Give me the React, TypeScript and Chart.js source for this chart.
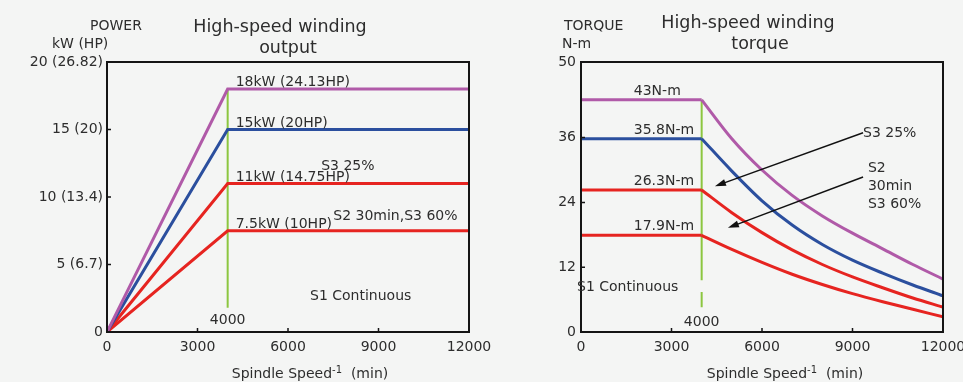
import React, { useEffect, useRef } from "react";
import { Chart, registerables } from "chart.js";

Chart.register(...registerables);

// ---- data -------------------------------------------------------------

// spindle speed axis (rpm)
const speedTicks = [0, 3000, 6000, 9000, 12000];
const baseSpeed = 4000;
const maxSpeed = 12000;

// output chart (kW, HP in brackets)
const powerTickValues = [0, 5, 10, 15, 20];
const powerTickLabels = ["0", "5 (6.7)", "10 (13.4)", "15 (20)", "20 (26.82)"];
const powerRatings = [18, 15, 11, 7.5];
const powerRatingLabels = ["18kW (24.13HP)", "15kW (20HP)", "11kW (14.75HP)", "7.5kW (10HP)"];
const powerMarkerFloor = 1.8;

// torque chart (N-m)
const torqueTickValues = [0, 12, 24, 36, 50];
const torqueRatings = [43, 35.8, 26.3, 17.9];
const torqueRatingLabels = ["43N-m", "35.8N-m", "26.3N-m", "17.9N-m"];
const falloffSpeeds = [4000, 5000, 6000, 7000, 8000, 9000, 10000, 11000, 12000];
const torqueCurve1 = [43, 35.8, 30.0, 25.3, 21.5, 18.3, 15.4, 12.5, 9.8];
const torqueCurve2 = [35.8, 29.8, 24.3, 19.8, 16.2, 13.3, 10.9, 8.7, 6.7];
const torqueCurve3 = [26.3, 22.1, 18.4, 15.2, 12.5, 10.2, 8.2, 6.3, 4.6];
const torqueCurve4 = [17.9, 15.3, 12.9, 10.7, 8.8, 7.1, 5.6, 4.2, 2.8];
const torqueCurves = [torqueCurve1, torqueCurve2, torqueCurve3, torqueCurve4];
const torqueMarkerUpper = [9.6];
const torqueMarkerLower = [7.4, 4.6];

// ---- styling ----------------------------------------------------------

const FONT = '"DejaVu Sans", sans-serif';
const TEXT = "#2d2d2d";
const AXIS = "#151515";
const BG = "#f4f5f4";
const PURPLE = "#b05aa8";
const BLUE = "#2b4f9e";
const RED = "#e62420";
const GREEN = "#8cc640";
const seriesColors = [PURPLE, BLUE, RED, RED];

// ---- drawing helpers --------------------------------------------------

function label(
  ctx: CanvasRenderingContext2D,
  s: string,
  x: number,
  y: number,
  size = 14,
  align: CanvasTextAlign = "left"
) {
  ctx.font = `${size}px ${FONT}`;
  ctx.fillStyle = TEXT;
  ctx.textAlign = align;
  ctx.textBaseline = "alphabetic";
  ctx.fillText(s, x, y);
}

function frame(chart: any, xInner: number[], yInner: number[]) {
  const { ctx, chartArea: a, scales } = chart;
  ctx.save();
  ctx.strokeStyle = AXIS;
  ctx.lineWidth = 2;
  ctx.strokeRect(a.left, a.top, a.right - a.left, a.bottom - a.top);
  ctx.lineWidth = 1.5;
  ctx.beginPath();
  for (const v of xInner) {
    const px = scales.x.getPixelForValue(v);
    ctx.moveTo(px, a.bottom);
    ctx.lineTo(px, a.bottom - 4);
  }
  for (const v of yInner) {
    const py = scales.y.getPixelForValue(v);
    ctx.moveTo(a.left, py);
    ctx.lineTo(a.left + 4, py);
  }
  ctx.stroke();
  ctx.restore();
}

function speedTitle(ctx: CanvasRenderingContext2D, centerX: number, baseline: number) {
  const main = "Spindle Speed";
  const sup = "-1";
  const tail = "  (min)";
  ctx.font = `14px ${FONT}`;
  const w1 = ctx.measureText(main).width;
  const w3 = ctx.measureText(tail).width;
  ctx.font = `10px ${FONT}`;
  const w2 = ctx.measureText(sup).width;
  let x = centerX - (w1 + w2 + w3) / 2;
  label(ctx, main, x, baseline, 14);
  x += w1;
  label(ctx, sup, x, baseline - 5, 10);
  x += w2;
  label(ctx, tail, x, baseline, 14);
}

function arrow(ctx: CanvasRenderingContext2D, x1: number, y1: number, x2: number, y2: number) {
  const ang = Math.atan2(y2 - y1, x2 - x1);
  const c = Math.cos(ang);
  const s = Math.sin(ang);
  const L = 11;
  const W = 3.5;
  ctx.save();
  ctx.strokeStyle = "#111";
  ctx.fillStyle = "#111";
  ctx.lineWidth = 1.4;
  ctx.beginPath();
  ctx.moveTo(x1, y1);
  ctx.lineTo(x2 - L * 0.7 * c, y2 - L * 0.7 * s);
  ctx.stroke();
  ctx.beginPath();
  ctx.moveTo(x2, y2);
  ctx.lineTo(x2 - L * c + W * s, y2 - L * s - W * c);
  ctx.lineTo(x2 - L * c - W * s, y2 - L * s + W * c);
  ctx.closePath();
  ctx.fill();
  ctx.restore();
}

function baseOptions(yScale: any, padRight: number, yWidth: number) {
  return {
    responsive: false,
    animation: false,
    devicePixelRatio: 1,
    events: [],
    layout: { padding: { top: 62, left: 0, right: padRight, bottom: 0 } },
    plugins: {
      legend: { display: false },
      tooltip: { enabled: false },
      title: { display: false },
    },
    elements: { point: { radius: 0 }, line: { borderCapStyle: "butt", borderJoinStyle: "miter" } },
    scales: {
      x: {
        type: "linear",
        min: 0,
        max: maxSpeed,
        afterBuildTicks: (s: any) => {
          s.ticks = speedTicks.map((v) => ({ value: v }));
        },
        grid: { display: false, drawTicks: false },
        border: { display: false },
        ticks: {
          padding: 7,
          color: TEXT,
          autoSkip: false,
          maxRotation: 0,
          font: { family: FONT, size: 14 },
          callback: (v: number) => String(v),
        },
        afterFit: (s: any) => {
          s.height = 50;
          s.paddingLeft = 0;
          s.paddingRight = 0;
        },
      },
      y: {
        type: "linear",
        ...yScale,
        grid: { display: false, drawTicks: false },
        border: { display: false },
        afterFit: (s: any) => {
          s.width = yWidth;
          s.paddingTop = 0;
          s.paddingBottom = 0;
        },
      },
    },
  };
}

// ---- output (power) chart ---------------------------------------------

function powerConfig(): any {
  const datasets: any[] = powerRatings.map((p, i) => ({
    data: [
      { x: 0, y: 0 },
      { x: baseSpeed, y: p },
      { x: maxSpeed, y: p },
    ],
    borderColor: seriesColors[i],
    borderWidth: 3,
    tension: 0,
  }));
  datasets.push({
    data: [
      { x: baseSpeed, y: powerRatings[0] },
      { x: baseSpeed, y: powerMarkerFloor },
    ],
    borderColor: GREEN,
    borderWidth: 2,
  });

  const yScale = {
    min: 0,
    max: 20,
    afterBuildTicks: (s: any) => {
      s.ticks = powerTickValues.map((v) => ({ value: v }));
    },
    ticks: {
      padding: 4,
      color: TEXT,
      font: { family: FONT, size: 14 },
      callback: (_v: number, i: number) => powerTickLabels[i],
    },
  };

  return {
    type: "line",
    data: { datasets },
    options: baseOptions(yScale, 31, 107),
    plugins: [
      {
        id: "powerDecor",
        afterDraw(chart: any) {
          const { ctx, chartArea: a, scales } = chart;
          const X = (v: number) => scales.x.getPixelForValue(v);
          const Y = (v: number) => scales.y.getPixelForValue(v);
          frame(chart, [3000, 6000, 9000], [5, 10, 15]);
          const mid = (a.left + a.right) / 2;
          label(ctx, "High-speed winding", mid - 8, 32, 17.5, "center");
          label(ctx, "output", mid, 53, 17.5, "center");
          label(ctx, "POWER", 90, 30, 14);
          label(ctx, "kW (HP)", 52, 48, 14);
          powerRatings.forEach((p, i) => label(ctx, powerRatingLabels[i], X(baseSpeed) + 8, Y(p) - 3));
          label(ctx, "S3 25%", X(7100), Y(powerRatings[2]) - 14);
          label(ctx, "S2 30min,S3 60%", X(7500), Y(powerRatings[3]) - 11);
          label(ctx, "S1 Continuous", X(6730), Y(2.4));
          label(ctx, String(baseSpeed), X(baseSpeed), a.bottom - 8, 14, "center");
          speedTitle(ctx, mid + 22, 378);
        },
      },
    ],
  };
}

// ---- torque chart -----------------------------------------------------

function torqueConfig(): any {
  const datasets: any[] = [];
  torqueRatings.forEach((t, i) => {
    // constant-torque section up to the base speed
    datasets.push({
      data: [
        { x: 0, y: t },
        { x: baseSpeed, y: t },
      ],
      borderColor: seriesColors[i],
      borderWidth: 3,
      tension: 0,
    });
    // falling section above the base speed
    datasets.push({
      data: falloffSpeeds.map((s, j) => ({ x: s, y: torqueCurves[i][j] })),
      borderColor: seriesColors[i],
      borderWidth: 3,
      cubicInterpolationMode: "monotone",
    });
  });
  datasets.push({
    data: [
      { x: baseSpeed, y: torqueRatings[0] },
      ...torqueMarkerUpper.map((v) => ({ x: baseSpeed, y: v })),
      { x: baseSpeed, y: null },
      ...torqueMarkerLower.map((v) => ({ x: baseSpeed, y: v })),
    ],
    borderColor: GREEN,
    borderWidth: 2,
    spanGaps: false,
  });

  const yScale = {
    min: 0,
    max: 50,
    afterBuildTicks: (s: any) => {
      s.ticks = torqueTickValues.map((v) => ({ value: v }));
    },
    ticks: {
      padding: 5,
      color: TEXT,
      font: { family: FONT, size: 14 },
      callback: (v: number) => String(v),
    },
  };

  return {
    type: "line",
    data: { datasets },
    options: baseOptions(yScale, 20, 81),
    plugins: [
      {
        id: "torqueDecor",
        afterDraw(chart: any) {
          const { ctx, chartArea: a, scales } = chart;
          const X = (v: number) => scales.x.getPixelForValue(v);
          const Y = (v: number) => scales.y.getPixelForValue(v);
          frame(chart, [3000, 6000, 9000], [12, 24, 36]);
          const mid = (a.left + a.right) / 2;
          label(ctx, "High-speed winding", mid - 14, 27.5, 17.5, "center");
          label(ctx, "torque", mid - 2, 49, 17.5, "center");
          label(ctx, "TORQUE", a.left - 17, 30, 14);
          label(ctx, "N-m", a.left - 19, 48, 14);
          torqueRatings.forEach((t, i) => label(ctx, torqueRatingLabels[i], X(1750), Y(t) - 5));
          label(ctx, "S3 25%", X(9350), Y(36.1));
          label(ctx, "S2", X(9510), Y(29.7));
          label(ctx, "30min", X(9510), Y(26.3));
          label(ctx, "S3 60%", X(9510), Y(23.0));
          arrow(ctx, X(9350), Y(36.9), X(4440), Y(27.0));
          arrow(ctx, X(9350), Y(28.7), X(4870), Y(19.3));
          label(ctx, "S1 Continuous", a.left - 4, Y(7.6));
          label(ctx, String(baseSpeed), X(baseSpeed), a.bottom - 6, 14, "center");
          speedTitle(ctx, mid + 23, 378);
        },
      },
    ],
  };
}

// ---- component --------------------------------------------------------

export default function App() {
  const powerRef = useRef<HTMLCanvasElement>(null);
  const torqueRef = useRef<HTMLCanvasElement>(null);

  useEffect(() => {
    const power = new Chart(powerRef.current as HTMLCanvasElement, powerConfig());
    const torque = new Chart(torqueRef.current as HTMLCanvasElement, torqueConfig());
    return () => {
      power.destroy();
      torque.destroy();
    };
  }, []);

  return (
    <div
      style={{
        position: "absolute",
        left: 0,
        top: 0,
        width: 963,
        height: 382,
        background: BG,
        overflow: "hidden",
      }}
    >
      <canvas
        ref={powerRef}
        width={500}
        height={382}
        style={{ position: "absolute", left: 0, top: 0, width: 500, height: 382 }}
      />
      <canvas
        ref={torqueRef}
        width={463}
        height={382}
        style={{ position: "absolute", left: 500, top: 0, width: 463, height: 382 }}
      />
    </div>
  );
}
